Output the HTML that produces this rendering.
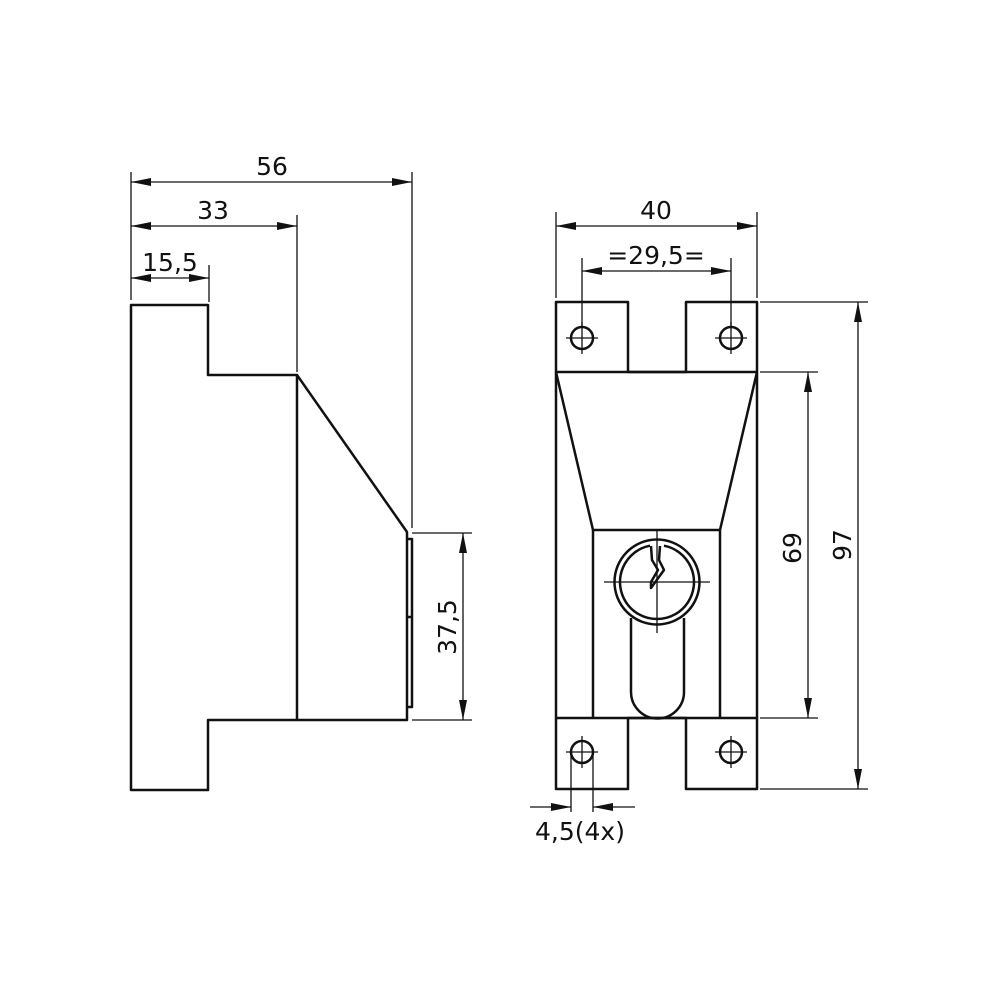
<!DOCTYPE html>
<html><head><style>body{margin:0;background:#fff}svg{display:block}text{font-family:"DejaVu Sans","Liberation Sans",sans-serif;font-size:25px;fill:#111}</style></head>
<body>
<svg width="1000" height="1000" viewBox="0 0 1000 1000" xmlns="http://www.w3.org/2000/svg">
<defs>
<marker id="a" viewBox="0 0 20 8" refX="20" refY="4" markerWidth="20" markerHeight="8" markerUnits="userSpaceOnUse" orient="auto-start-reverse"><path d="M0,0 L20,4 L0,8 z" fill="#111"/></marker>
</defs>
<g fill="none" stroke="#111" stroke-width="2.5" stroke-linejoin="round">
<!-- left view -->
<path d="M131,305 H208 V375 H297 L407,532 V720 H208 V790 H131 Z"/>
<path d="M297,375 V720"/>
<path d="M407,539 H412 V707 H407 M407,617 H412"/>
<!-- right view -->
<path d="M556,302 H628 V372 H686 V302 H757 V789 H686 V718 H628 V789 H556 Z"/>
<path d="M556,372 H757 M556,718 H757"/>
<path d="M556,372 L593,530 H720 L757,372"/>
<path d="M593,530 V718 M720,530 V718"/>
<circle cx="582" cy="338" r="11"/><circle cx="731" cy="338" r="11"/>
<circle cx="582" cy="752" r="11"/><circle cx="731" cy="752" r="11"/>
<circle cx="657" cy="582" r="42.5"/>
<path d="M631,618 V692 A26.5,26.5 0 0 0 684,692 V618"/>
<path d="M650,545.7 A37,37 0 1 0 664,545.7" />
<path d="M651,546 L652,560 L658,570 L651,582 L651,588 L664,570 L659,560 L660,546"/>
</g>
<g fill="none" stroke="#111" stroke-width="1.3">
<path d="M566,338 H598 M582,322 V354 M715,338 H747 M731,322 V354 M566,752 H598 M582,736 V768 M715,752 H747 M731,736 V768 M604,582 H710 M657,530 V633"/>
<path d="M131,172 V300 M412,172 V528 M297,215 V372 M209,265 V302"/>
<path d="M412,533 H472 M412,720 H472"/>
<path d="M556,212 V298 M757,212 V298 M582,258 V328 M731,258 V328"/>
<path d="M760,372 H818 M760,718 H818 M760,302 H868 M760,789 H868"/>
<path d="M571,752 V812 M593,752 V812"/>
<path d="M131,182 H412" marker-start="url(#a)" marker-end="url(#a)"/>
<path d="M131,226 H297" marker-start="url(#a)" marker-end="url(#a)"/>
<path d="M131,278 H209" marker-start="url(#a)" marker-end="url(#a)"/>
<path d="M463,533 V720" marker-start="url(#a)" marker-end="url(#a)"/>
<path d="M556,226 H757" marker-start="url(#a)" marker-end="url(#a)"/>
<path d="M582,271 H731" marker-start="url(#a)" marker-end="url(#a)"/>
<path d="M808,372 V718" marker-start="url(#a)" marker-end="url(#a)"/>
<path d="M858,302 V789" marker-start="url(#a)" marker-end="url(#a)"/>
<path d="M530,807 H571" marker-end="url(#a)"/>
<path d="M635,807 H593" marker-end="url(#a)"/>
</g>
<text x="272" y="175" text-anchor="middle">56</text>
<text x="213" y="219" text-anchor="middle">33</text>
<text x="170" y="271" text-anchor="middle">15,5</text>
<text x="656" y="219" text-anchor="middle">40</text>
<text x="656" y="264" text-anchor="middle">=29,5=</text>
<text x="580" y="840" text-anchor="middle">4,5(4x)</text>
<text transform="translate(456,627) rotate(-90)" text-anchor="middle">37,5</text>
<text transform="translate(801,548) rotate(-90)" text-anchor="middle">69</text>
<text transform="translate(851,545) rotate(-90)" text-anchor="middle">97</text>
</svg>
</body></html>
